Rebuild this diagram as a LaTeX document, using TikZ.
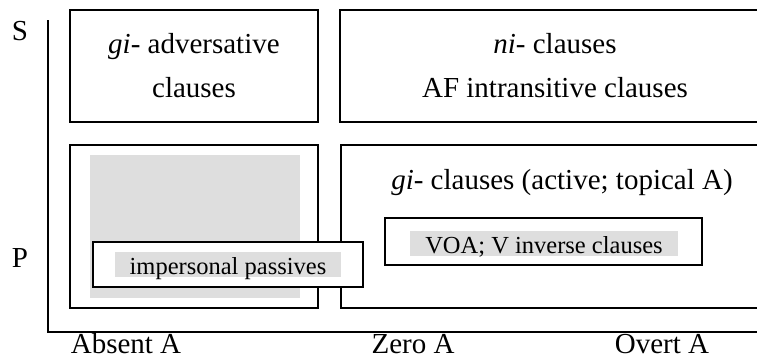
\documentclass[tikz,border=0pt]{standalone}
\usepackage{fontspec}
\setmainfont{Liberation Serif}
\definecolor{shade}{gray}{0.87}
\tikzset{
	boxstyle/.style={rectangle,draw=black,line width=1.9pt,fill=white,inner sep=0pt},
	shadestyle/.style={rectangle,fill=shade,inner sep=0pt},
	markstyle/.style={rectangle,fill=shade,inner xsep=15pt,inner ysep=2.5pt,text height=20pt,text depth=0pt,font=\fontsize{24.5}{28}\selectfont},
	textstyle/.style={align=center,font=\fontsize{29}{44}\selectfont},
	axisstyle/.style={anchor=base,font=\fontsize{29}{34}\selectfont}
}

\begin{document}
\begin{tikzpicture}[x=1pt,y=-1pt]
	\useasboundingbox (0,0) rectangle (757,362);
	\clip (0,0) rectangle (757,362);
	\coordinate (top) at (48,20);
	\coordinate (origin) at (48,332);
	\coordinate (end) at (757,332);
	\draw[line width=1.9pt] (top)--(origin)--(end);
	\node[axisstyle] (s) at (20,40) {S};
	\node[axisstyle] (p) at (20,267) {P};
	\node[axisstyle] (absent) at (126,353) {Absent A};
	\node[axisstyle] (zero) at (413,353) {Zero A};
	\node[axisstyle] (overt) at (662,353) {Overt A};
	\node[boxstyle,textstyle,minimum width=248pt,minimum height=112pt] (adv) at (194,66) {\textit{gi}- adversative\\clauses};
	\node[boxstyle,textstyle,minimum width=430pt,minimum height=112pt] (intr) at (555,66) {\textit{ni}- clauses\\AF intransitive clauses};
	\node[boxstyle,minimum width=248pt,minimum height=163pt] (absentbox) at (194,226.5) {};
	\node[boxstyle,minimum width=429pt,minimum height=163pt] (active) at (555.5,226.5) {};
	\node[shadestyle,minimum width=210pt,minimum height=143pt] (absentshade) at (195,226.5) {};
	\node[textstyle,anchor=base] (activetext) at (562,189) {\textit{gi}- clauses (active; topical A)};
	\node[boxstyle,minimum width=270pt,minimum height=45pt] (passbox) at (228,264.5) {};
	\node[markstyle,anchor=base] (pass) at (228,274) {impersonal passives};
	\node[boxstyle,minimum width=317pt,minimum height=47pt] (voabox) at (543.5,241.5) {};
	\node[markstyle,anchor=base] (voa) at (544,253) {VOA; V inverse clauses};
\end{tikzpicture}
\end{document}
